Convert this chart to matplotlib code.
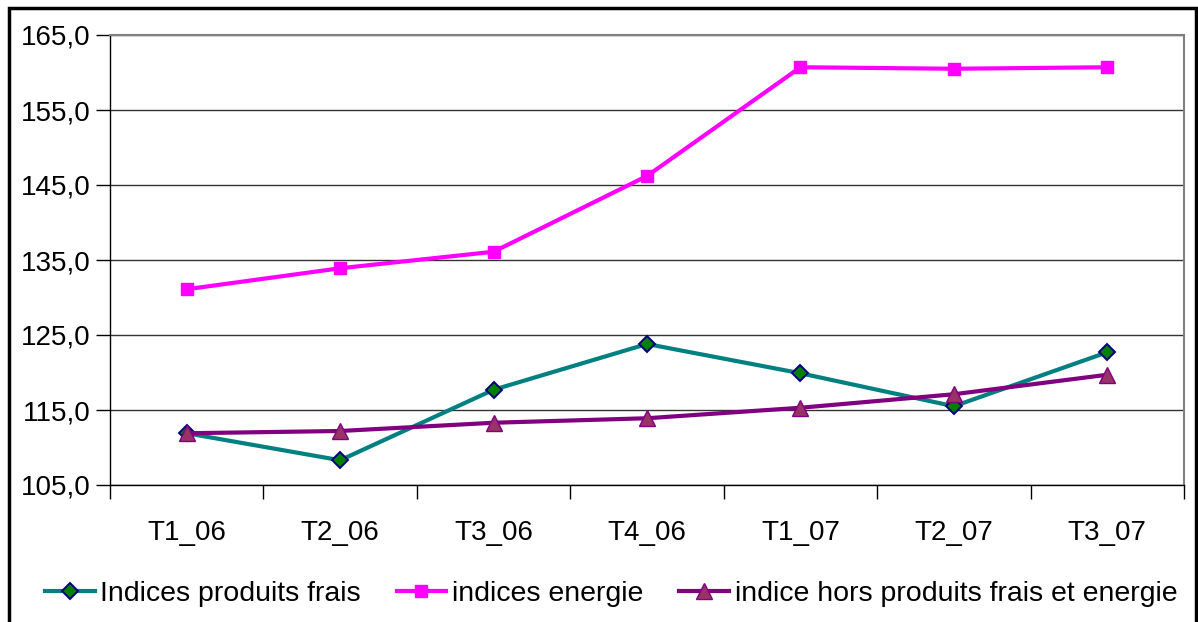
import matplotlib.pyplot as plt
from matplotlib.patches import Rectangle

plt.rcParams['font.family'] = ['Liberation Sans', 'DejaVu Sans']

quarters = ['T1_06', 'T2_06', 'T3_06', 'T4_06', 'T1_07', 'T2_07', 'T3_07']
frais = [111.9, 108.3, 117.7, 123.8, 119.9, 115.5, 122.7]
energie = [131.1, 133.9, 136.1, 146.2, 160.7, 160.5, 160.7]
hors = [111.9, 112.2, 113.3, 113.9, 115.3, 117.1, 119.7]
yticks = [105, 115, 125, 135, 145, 155, 165]

fig = plt.figure(figsize=(11.98, 6.22), dpi=100)
ax = fig.add_axes([110 / 1198, 137 / 622, 1074 / 1198, 450 / 622])

x = range(len(quarters))
ax.plot(x, frais, color='#008080', lw=3, marker='D', ms=8,
        mfc='#008000', mec='#000080', mew=1.4, label='Indices produits frais')
ax.plot(x, energie, color='#FF00FF', lw=3, marker='s', ms=8.5,
        mfc='#FF00FF', mec='#FF00FF', label='indices energie')
ax.plot(x, hors, color='#800080', lw=3, marker='^', ms=11,
        mfc='#993366', mec='#800080', mew=1, label='indice hors produits frais et energie')

ax.set_xlim(-0.5, len(quarters) - 0.5)
ax.set_ylim(105, 165)
ax.set_yticks(yticks)
ax.set_yticklabels([('%.1f' % v).replace('.', ',') for v in yticks])
# category boundaries get the tick marks, labels sit in the middle
ax.set_xticks([i + 0.5 for i in range(-1, len(quarters))])
ax.set_xticklabels([])
ax.set_xticks(list(x), minor=True)
ax.set_xticklabels(quarters, minor=True)
ax.tick_params(axis='x', which='major', direction='out', length=10, width=1, color='black')
ax.tick_params(axis='x', which='minor', length=0, pad=25, labelsize=20)
ax.tick_params(axis='y', direction='out', length=10, width=1, labelsize=20, pad=4)

ax.yaxis.grid(True, color='#333333', lw=1)
ax.set_axisbelow(True)
for s in ['top', 'right']:
    ax.spines[s].set_color('#808080')
    ax.spines[s].set_linewidth(1.5)
for s in ['left', 'bottom']:
    ax.spines[s].set_color('black')
    ax.spines[s].set_linewidth(1)

fig.legend(loc='center', bbox_to_anchor=(0.51, 28 / 622), ncol=3, frameon=False,
           fontsize=20.5, handlelength=1.75, handletextpad=0.2, columnspacing=1.25, borderaxespad=0)

fig.patches.append(Rectangle((9 / 1198, -0.05), 1187 / 1198, 1.05 - 8 / 622,
                             transform=fig.transFigure, fill=False, ec='black', lw=2.5))

fig.savefig('out.png', dpi=100)
